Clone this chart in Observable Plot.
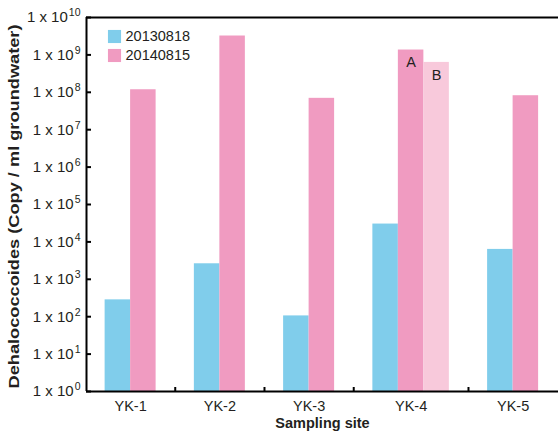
<!DOCTYPE html>
<html>
<head>
<meta charset="utf-8">
<script src="https://cdn.jsdelivr.net/npm/d3@7"></script>
<script src="https://cdn.jsdelivr.net/npm/@observablehq/plot@0.6"></script>
<style>
  html, body { margin: 0; padding: 0; background: #fff; }
  #chart svg { display: block; }
</style>
</head>
<body>
<div id="chart"></div>
<script>
// Dehalococcoides abundance per sampling site (copies / ml groundwater)
const sites = ["YK-1", "YK-2", "YK-3", "YK-4", "YK-5"];
const copies20130818 = [282, 2600, 105, 30000, 6300];
const copies20140815 = [1.17e8, 3.2e9, 6.9e7, 1.35e9, 8.1e7];
// second 2014 sample, taken at YK-4 only
const copies20140815B = [null, null, null, 6.3e8, null];
const replicateLabels = ["", "", "", "A", ""];
const seriesNames = ["20130818", "20140815"];
const decades = [1, 10, 1e2, 1e3, 1e4, 1e5, 1e6, 1e7, 1e8, 1e9, 1e10];
const yTitle = "Dehalococcoides (Copy / ml groundwater)";

const colors = {"20130818": "#80cdeb", "20140815": "#f09bc1", "20140815 B": "#f8c9db"};

// lay the bars out side by side, one unit wide, with a gap between sites
const gap = 1.5;
const bars = [];
const groups = [];
let pos = 0;
sites.forEach((site, i) => {
  const start = pos;
  bars.push({site, series: "20130818", value: copies20130818[i], x1: pos, x2: pos + 1, label: ""}); pos++;
  bars.push({site, series: "20140815", value: copies20140815[i], x1: pos, x2: pos + 1, label: replicateLabels[i]}); pos++;
  if (copies20140815B[i] != null) {
    bars.push({site, series: "20140815 B", value: copies20140815B[i], x1: pos, x2: pos + 1, label: "B"}); pos++;
  }
  groups.push({site, center: (start + pos) / 2, end: pos});
  pos += gap;
});
const separators = groups.slice(0, -1).map(g => g.end + gap / 2);
const xMin = -0.73, xMax = pos - gap + 0.78;

const font = "Liberation Sans, Arial, Helvetica, sans-serif";
const ink = "#231f20";

// legend rows: a swatch and its date, stacked in the top-left corner
const legendMarks = seriesNames.flatMap((name, i) => [
  Plot.dot([name], {
    frameAnchor: "top-left", dx: 28, dy: 19 + i * 19,
    symbol: "square", r: 7.4, fill: colors[name], stroke: null
  }),
  Plot.text([name], {
    frameAnchor: "top-left", dx: 39, dy: 19 + i * 19,
    textAnchor: "start", lineAnchor: "middle", fontSize: 14.5, fill: ink
  })
]);

const plot = Plot.plot({
  width: 558,
  height: 432,
  marginTop: 17,
  marginBottom: 41,
  marginLeft: 86,
  marginRight: 0,
  style: {fontFamily: font, color: ink, background: "#fff"},
  x: {type: "linear", domain: [xMin, xMax], axis: null},
  y: {type: "log", domain: [1, 1e10]},
  color: {domain: Object.keys(colors), range: Object.values(colors)},
  marks: [
    Plot.rectY(bars, {x1: "x1", x2: "x2", y1: () => 1, y2: "value", fill: "series"}),
    // replicate tags inside the YK-4 bars
    Plot.text(bars.filter(d => d.label), {
      x: d => (d.x1 + d.x2) / 2, y: "value", text: "label",
      lineAnchor: "top", dy: 7, fontSize: 14.5, fill: ink
    }),
    // frame: left, top and bottom lines
    Plot.ruleY([1, 1e10], {stroke: "#000", strokeWidth: 2}),
    Plot.ruleX([xMin], {stroke: "#000", strokeWidth: 2}),
    // inward ticks on the y axis
    Plot.ruleY(decades, {x1: () => xMin, x2: () => xMin, insetRight: -5, stroke: "#000", strokeWidth: 2}),
    // inward separator ticks between sites
    Plot.ruleX(separators, {y1: () => 1, y2: () => 1, insetBottom: 4, stroke: "#000", strokeWidth: 2}),
    Plot.axisY({
      ticks: decades, tickSize: 0, tickPadding: 6, fontSize: 15,
      tickFormat: d => "1 x 10^" + Math.round(Math.log10(d)), label: null
    }),
    // site labels
    Plot.text(groups, {
      x: "center", text: "site", frameAnchor: "bottom",
      lineAnchor: "top", dy: 9, fontSize: 14.5, fill: ink
    }),
    Plot.text(["Sampling site"], {
      frameAnchor: "bottom", lineAnchor: "middle", dy: 32, fontSize: 14.5,
      fontWeight: "bold", fill: ink
    }),
    Plot.text([yTitle], {
      frameAnchor: "left", textAnchor: "middle", rotate: -90, dx: -72, dy: 2, fontSize: 15,
      fontWeight: "bold", fill: ink
    }),
    ...legendMarks
  ]
});

// turn "1 x 10^n" tick labels into a base with a raised exponent
d3.select(plot).selectAll('g[aria-label="y-axis tick label"] text').each(function() {
  const t = this.textContent;
  const [base, exp] = t.split("^");
  const sel = d3.select(this);
  sel.text(null);
  sel.append("tspan").text(base);
  sel.append("tspan").attr("dx", "1").attr("dy", "-6").attr("font-size", "10.5px").text(exp);
});

// the y title runs the full height of the frame
d3.select(plot).selectAll("text")
  .filter(function() { return this.textContent === yTitle; })
  .attr("textLength", 364)
  .attr("lengthAdjust", "spacingAndGlyphs");

document.getElementById("chart").appendChild(plot);
</script>
</body>
</html>
